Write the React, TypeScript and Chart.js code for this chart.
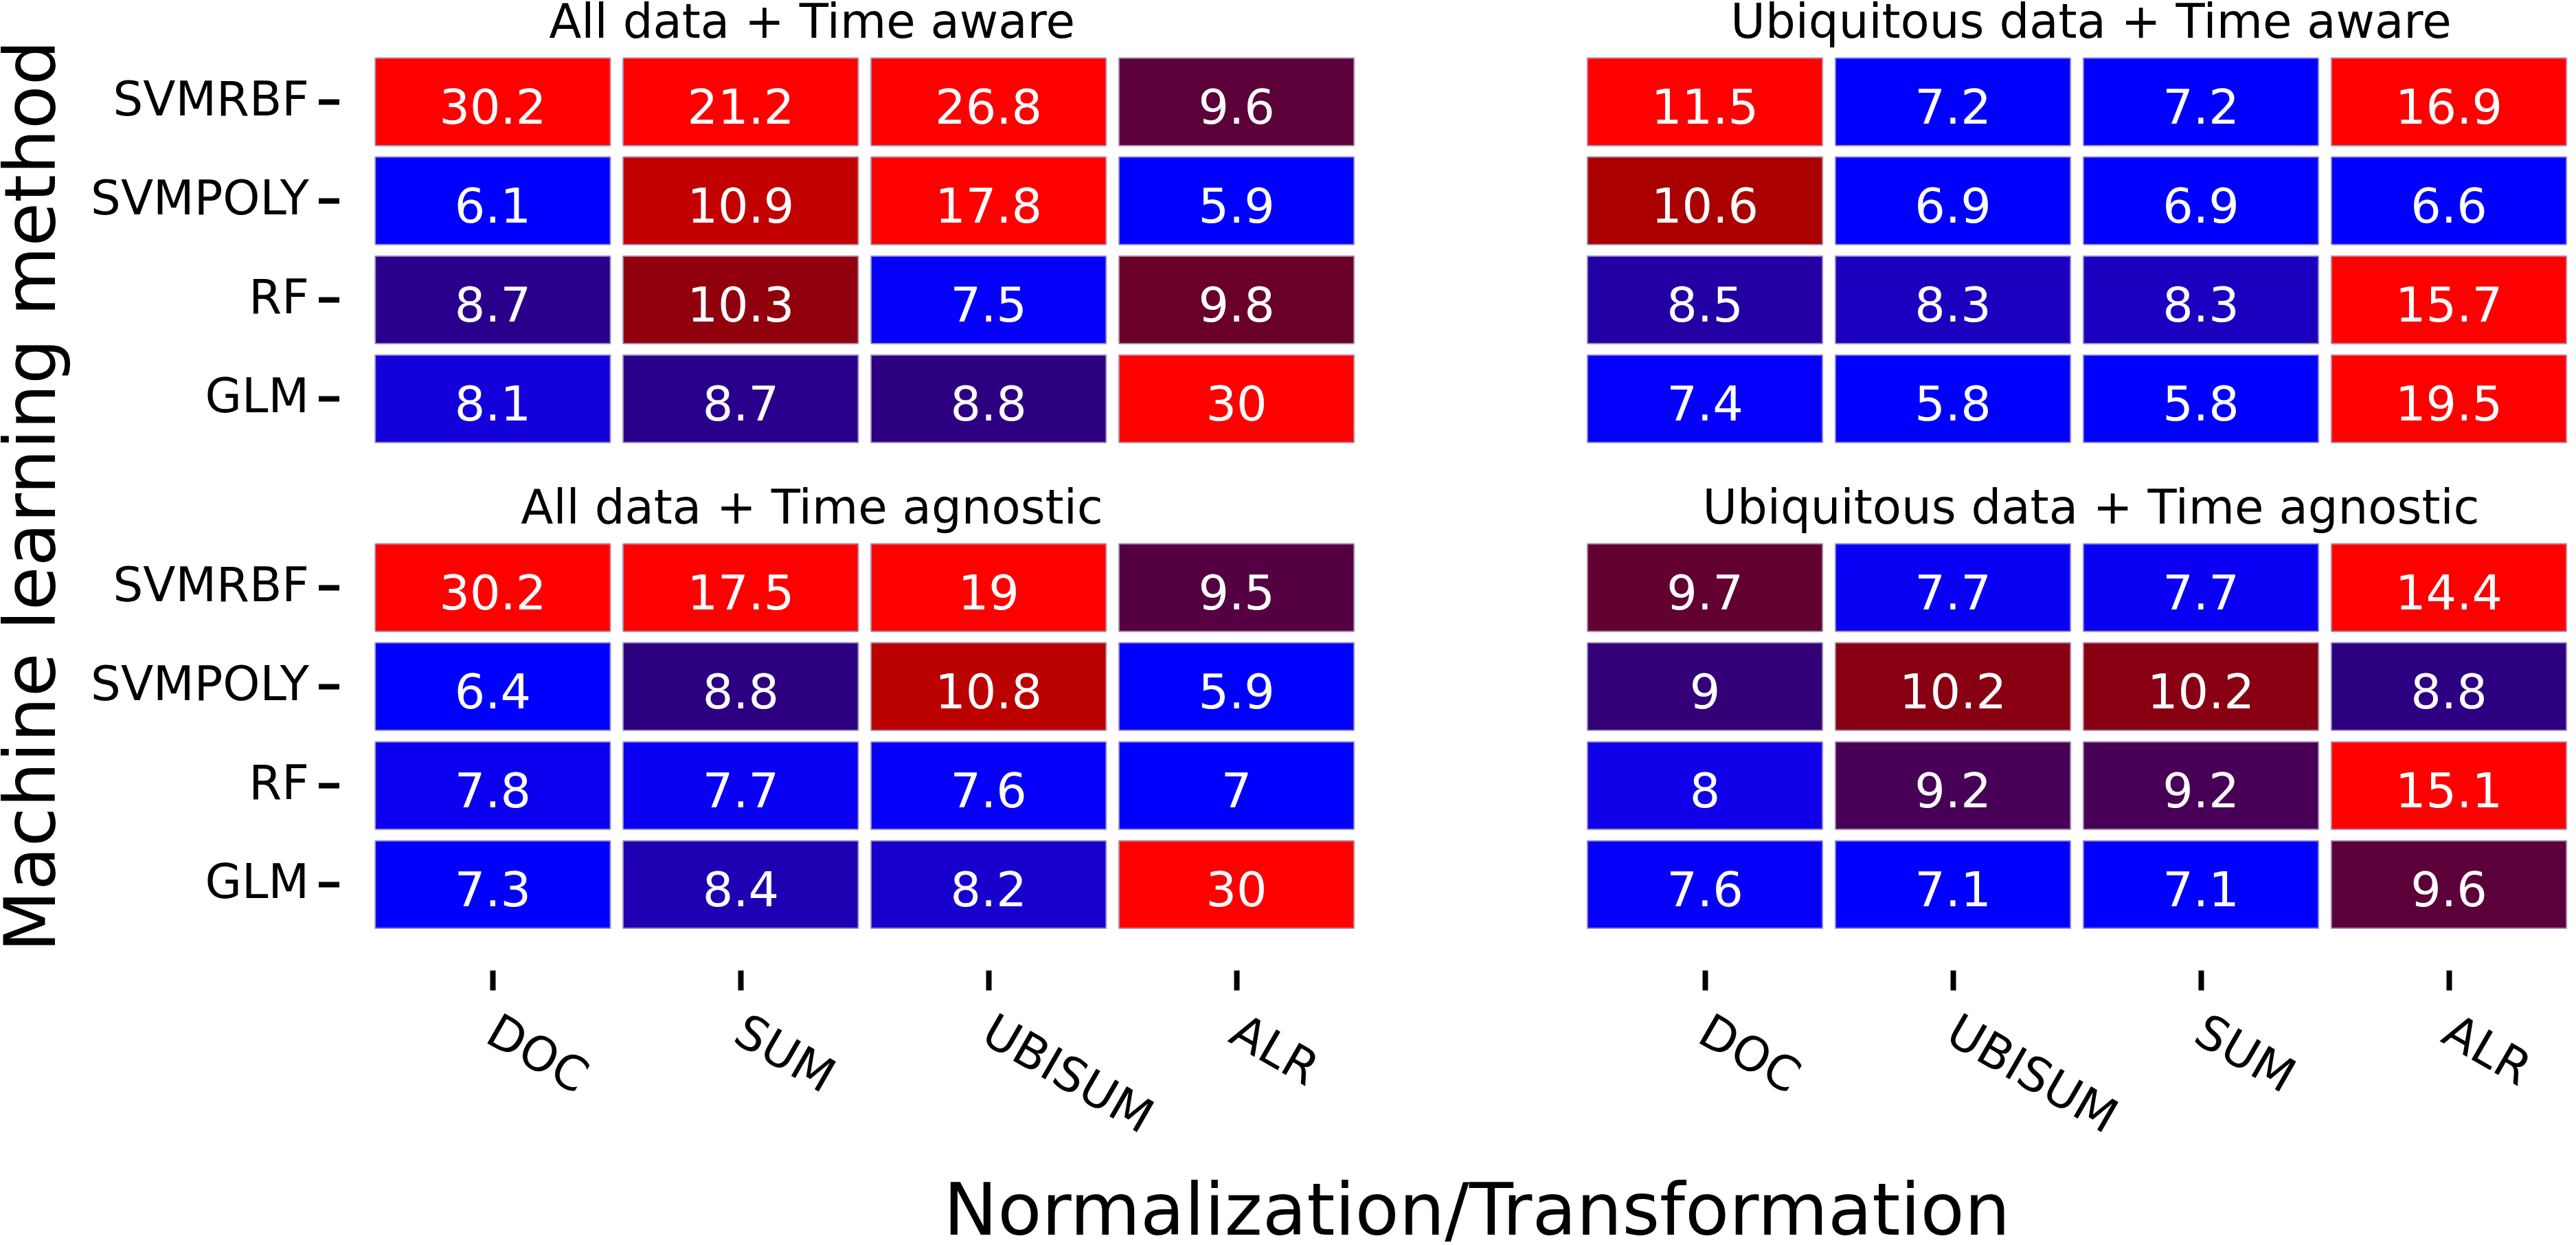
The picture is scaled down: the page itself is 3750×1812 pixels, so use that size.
import { useEffect, useRef } from "react";
import { Chart, registerables } from "chart.js";

Chart.register(...registerables);

const W = 3750;
const H = 1812;
const FONT = "'DejaVu Sans', 'Liberation Sans', sans-serif";

// Learning methods, top row first
const methods = ["SVMRBF", "SVMPOLY", "RF", "GLM"];

// Column order of each data source
const allDataNorms = ["DOC", "SUM", "UBISUM", "ALR"];
const ubiquitousNorms = ["DOC", "UBISUM", "SUM", "ALR"];

// Error values: one row per method, one column per normalization
const allDataTimeAware = [
  [30.2, 21.2, 26.8, 9.6],
  [6.1, 10.9, 17.8, 5.9],
  [8.7, 10.3, 7.5, 9.8],
  [8.1, 8.7, 8.8, 30],
];
const ubiquitousTimeAware = [
  [11.5, 7.2, 7.2, 16.9],
  [10.6, 6.9, 6.9, 6.6],
  [8.5, 8.3, 8.3, 15.7],
  [7.4, 5.8, 5.8, 19.5],
];
const allDataTimeAgnostic = [
  [30.2, 17.5, 19, 9.5],
  [6.4, 8.8, 10.8, 5.9],
  [7.8, 7.7, 7.6, 7],
  [7.3, 8.4, 8.2, 30],
];
const ubiquitousTimeAgnostic = [
  [9.7, 7.7, 7.7, 14.4],
  [9, 10.2, 10.2, 8.8],
  [8, 9.2, 9.2, 15.1],
  [7.6, 7.1, 7.1, 9.6],
];

// Blue -> dark purple -> red fill scale (value, r, g, b)
const fillStops: number[][] = [
  [7.2, 0, 0, 255],
  [7.6, 6, 0, 248],
  [8.0, 16, 0, 232],
  [8.3, 28, 0, 192],
  [8.5, 34, 0, 164],
  [8.8, 44, 0, 128],
  [9.0, 51, 0, 119],
  [9.2, 72, 0, 86],
  [9.5, 84, 0, 66],
  [9.7, 98, 0, 48],
  [10.2, 136, 0, 18],
  [10.6, 170, 0, 0],
  [10.9, 195, 0, 0],
  [11.5, 255, 0, 0],
];

function cellColor(v: number): string {
  const first = fillStops[0];
  const last = fillStops[fillStops.length - 1];
  if (v <= first[0]) return `rgb(${first[1]},${first[2]},${first[3]})`;
  if (v >= last[0]) return `rgb(${last[1]},${last[2]},${last[3]})`;
  for (let i = 1; i < fillStops.length; i++) {
    const a = fillStops[i - 1];
    const b = fillStops[i];
    if (v <= b[0]) {
      const t = (v - a[0]) / (b[0] - a[0]);
      const c = [1, 2, 3].map((k) => Math.round(a[k] + (b[k] - a[k]) * t));
      return `rgb(${c[0]},${c[1]},${c[2]})`;
    }
  }
  return `rgb(${last[1]},${last[2]},${last[3]})`;
}

type Panel = {
  key: string;
  title: string;
  norms: string[];
  values: number[][];
  area: { left: number; top: number; right: number; bottom: number };
  showY: boolean;
  showX: boolean;
  titleX: number;
};

const panels: Panel[] = [
  {
    key: "all-aware",
    title: "All data + Time aware",
    norms: allDataNorms,
    values: allDataTimeAware,
    area: { left: 537, top: 76, right: 1980.5, bottom: 652.5 },
    showY: true,
    showX: false,
    titleX: 1182,
  },
  {
    key: "ubi-aware",
    title: "Ubiquitous data + Time aware",
    norms: ubiquitousNorms,
    values: ubiquitousTimeAware,
    area: { left: 2301.5, top: 76, right: 3745.5, bottom: 652.5 },
    showY: false,
    showX: false,
    titleX: 3044,
  },
  {
    key: "all-agnostic",
    title: "All data + Time agnostic",
    norms: allDataNorms,
    values: allDataTimeAgnostic,
    area: { left: 537, top: 783, right: 1980.5, bottom: 1359.5 },
    showY: true,
    showX: true,
    titleX: 1182,
  },
  {
    key: "ubi-agnostic",
    title: "Ubiquitous data + Time agnostic",
    norms: ubiquitousNorms,
    values: ubiquitousTimeAgnostic,
    area: { left: 2301.5, top: 783, right: 3745.5, bottom: 1359.5 },
    showY: false,
    showX: true,
    titleX: 3044,
  },
];

const ROW_HALF = 0.45;
const CELL_EDGE = "rgba(90, 60, 120, 0.55)";

function buildPanel(canvas: HTMLCanvasElement, p: Panel, drawAxisTitles: boolean) {
  const datasets = methods.map((m, r) => ({
    label: m,
    data: p.values[r].map(() => [r - ROW_HALF, r + ROW_HALF]),
    cellValues: p.values[r],
    backgroundColor: p.values[r].map(cellColor),
    borderColor: CELL_EDGE,
    borderWidth: 2,
    borderSkipped: false,
    borderRadius: 2,
    grouped: false,
    barPercentage: 0.955,
    categoryPercentage: 1,
  }));

  // value text in the middle of every cell
  const cellLabels = {
    id: "cellLabels",
    afterDatasetsDraw(chart: any) {
      const ctx = chart.ctx;
      ctx.save();
      ctx.fillStyle = "#ffffff";
      ctx.font = `70px ${FONT}`;
      ctx.textAlign = "center";
      ctx.textBaseline = "alphabetic";
      chart.data.datasets.forEach((ds: any, di: number) => {
        const meta = chart.getDatasetMeta(di);
        meta.data.forEach((bar: any, i: number) => {
          const { x, y, base } = bar.getProps(["x", "y", "base"], true);
          ctx.fillText(String(ds.cellValues[i]), x, (y + base) / 2 + 32);
        });
      });
      ctx.restore();
    },
  };

  // facet heading above the panel
  const stripTitle = {
    id: "stripTitle",
    afterDraw(chart: any) {
      const ctx = chart.ctx;
      ctx.save();
      ctx.fillStyle = "#000000";
      ctx.font = `69px ${FONT}`;
      ctx.textAlign = "center";
      ctx.textBaseline = "alphabetic";
      ctx.fillText(p.title, p.titleX, chart.chartArea.top - 21);
      ctx.restore();
    },
  };

  // slanted category labels under the bottom ticks
  const slantedLabels = {
    id: "slantedLabels",
    afterDraw(chart: any) {
      const xs = chart.scales.x;
      if (!p.showX) return;
      const ctx = chart.ctx;
      ctx.save();
      ctx.fillStyle = "#000000";
      ctx.font = `69px ${FONT}`;
      ctx.textAlign = "left";
      ctx.textBaseline = "middle";
      xs.ticks.forEach((t: any, i: number) => {
        const px = xs.getPixelForTick(i);
        ctx.save();
        ctx.translate(px - 5, chart.chartArea.bottom + 140);
        ctx.rotate(Math.PI / 6);
        ctx.fillText(String(xs.getLabelForValue(t.value)), 0, 0);
        ctx.restore();
      });
      ctx.restore();
    },
  };

  // shared axis titles of the whole figure
  const figureTitles = {
    id: "figureTitles",
    afterDraw(chart: any) {
      if (!drawAxisTitles) return;
      const ctx = chart.ctx;
      ctx.save();
      ctx.fillStyle = "#000000";
      ctx.textAlign = "center";
      ctx.textBaseline = "alphabetic";
      ctx.font = `105px ${FONT}`;
      ctx.fillText("Normalization/Transformation", 2150, 1797);
      ctx.translate(80, 722);
      ctx.rotate(-Math.PI / 2);
      ctx.font = `104px ${FONT}`;
      ctx.fillText("Machine learning method", 0, 0);
      ctx.restore();
    },
  };

  return new Chart(canvas, {
    type: "bar",
    data: { labels: p.norms, datasets: datasets as any },
    options: {
      responsive: false,
      maintainAspectRatio: false,
      animation: false,
      devicePixelRatio: 1,
      layout: {
        padding: {
          left: p.showY ? 0 : p.area.left,
          top: p.area.top,
          right: W - p.area.right,
          bottom: p.showX ? 0 : H - p.area.bottom,
        },
      },
      plugins: {
        legend: { display: false },
        tooltip: { enabled: false },
        title: { display: false },
      },
      scales: {
        x: {
          type: "category",
          offset: true,
          display: p.showX,
          border: { display: false },
          grid: {
            offset: false,
            drawOnChartArea: false,
            drawTicks: true,
            tickLength: 82,
            tickWidth: 8,
            tickColor: "#000000",
            tickBorderDash: [0, 52.5, 29.5, 1000],
          },
          ticks: { display: false },
          afterFit: (s: any) => {
            s.height = p.showX ? H - p.area.bottom : 0;
          },
        },
        y: {
          type: "linear",
          reverse: true,
          min: -0.5,
          max: 3.5,
          display: p.showY,
          border: { display: false },
          grid: {
            drawOnChartArea: false,
            drawTicks: true,
            tickLength: 73,
            tickWidth: 8,
            tickColor: "#000000",
            tickBorderDash: [30, 1000],
          },
          afterBuildTicks: (s: any) => {
            s.ticks = methods.map((_, i) => ({ value: i }));
          },
          ticks: {
            color: "#000000",
            font: { family: FONT, size: 69 },
            padding: 14,
            labelOffset: 2,
            callback: (v: any) => methods[Number(v)] ?? "",
          },
          afterFit: (s: any) => {
            s.width = p.showY ? p.area.left : 0;
          },
        },
      },
    } as any,
    plugins: [cellLabels, stripTitle, slantedLabels, figureTitles],
  });
}

export default function App() {
  const refs = useRef<(HTMLCanvasElement | null)[]>([]);

  useEffect(() => {
    const charts = panels.map((p, i) =>
      buildPanel(refs.current[i] as HTMLCanvasElement, p, i === 2)
    );
    return () => charts.forEach((c) => c.destroy());
  }, []);

  return (
    <div
      style={{
        position: "fixed",
        left: 0,
        top: 0,
        width: W,
        height: H,
        background: "#ffffff",
        overflow: "hidden",
      }}
    >
      {panels.map((p, i) => (
        <canvas
          key={p.key}
          ref={(el) => {
            refs.current[i] = el;
          }}
          width={W}
          height={H}
          style={{ position: "absolute", left: 0, top: 0, width: W, height: H }}
        />
      ))}
    </div>
  );
}
